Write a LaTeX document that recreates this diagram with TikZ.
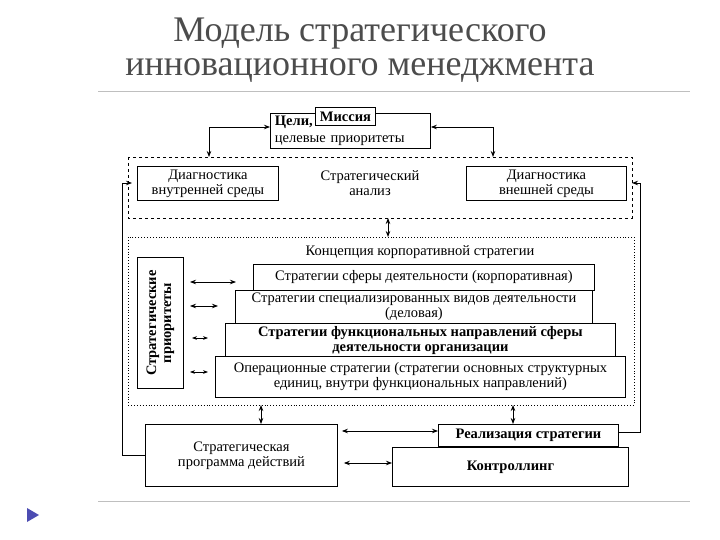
\documentclass[tikz,border=0pt]{standalone}
\usepackage{fontspec}
\setmainfont{Liberation Serif}
\usetikzlibrary{arrows.meta}
\begin{document}
\begin{tikzpicture}[x=1pt,y=-1pt,
  fs/.style={font=\fontsize{14.5}{15}\selectfont},
  fsb/.style={font=\fontsize{14.5}{15}\selectfont\bfseries},
  bx/.style={draw,line width=0.9pt,fill=white,inner sep=0pt,fs,align=center},
  arr/.style={{Stealth[length=6pt]}-{Stealth[length=6pt]},line width=0.8pt},
  lbl/.style={fs,align=center}]
\useasboundingbox (0,0) rectangle (720,540);
\node[font=\fontsize{36}{40}\selectfont,text=black!70] (t1) at (360,34) {Модель стратегического};
\node[font=\fontsize{36}{40}\selectfont,text=black!70] (t2) at (360,71) {инновационного менеджмента};
\draw[black!25,line width=0.6pt] (98,91) -- (690,91);
\draw[black!25,line width=0.6pt] (98,501) -- (690,501);
\fill[gray!60!blue] (27,508) -- (39,515) -- (27,522) -- cycle;
% top
\draw[dashed,line width=0.8pt] (128,157) rectangle (632,218);
\node[bx,minimum width=160,minimum height=35,text width=155,align=left,anchor=north west] (goal) at (270,113) {\vspace*{2pt}\hspace*{2pt}\textbf{Цели,}\\[0pt]\hspace*{2pt}целевые приоритеты};
\node[bx,fsb,minimum width=60,minimum height=18,anchor=north west] (mis) at (315,107) {Миссия};
\coordinate (sa1) at (209,157); \coordinate (sa2) at (493,157);
\draw[arr] (goal.west |- 0,127) -| (sa1);
\draw[arr] (goal.east |- 0,127) -| (sa2);
\node[bx,minimum width=141,minimum height=34,anchor=north west] (din) at (137,166) {Диагностика\\внутренней среды};
\node[bx,minimum width=160,minimum height=34,anchor=north west] (dex) at (466,166) {Диагностика\\внешней среды};
\node[lbl] (sa) at (370,183) {Стратегический\\анализ};
% corporate
\draw[dotted,line width=0.9pt] (128,237) rectangle (634,405);
\coordinate (c1) at (388,218); \coordinate (c2) at (388,237);
\draw[arr] (c1) -- (c2);
\node[lbl] (kc) at (420,252) {Концепция корпоративной стратегии};
\node[bx,minimum width=46,minimum height=131,anchor=north west] (pr) at (137,257) {};
\node[lbl,fsb,rotate=90] (prt) at (pr.center) {Стратегические\\приоритеты};
\node[bx,minimum width=341,minimum height=26,anchor=north west] (s1) at (253,264) {Стратегии сферы деятельности (корпоративная)};
\node[bx,minimum width=357,minimum height=33,anchor=north west] (s2) at (235,290) {Стратегии специализированных видов деятельности\\(деловая)};
\node[bx,fsb,minimum width=390,minimum height=34,anchor=north west] (s3) at (225,323) {Стратегии функциональных направлений сферы\\деятельности организации};
\node[bx,minimum width=410,minimum height=41,anchor=north west] (s4) at (215,356) {Операционные стратегии (стратегии основных структурных\\единиц, внутри функциональных направлений)};
\coordinate (a1) at (190,282); \coordinate (b1) at (236,282);
\coordinate (a2) at (190,306); \coordinate (b2) at (218,306);
\coordinate (a3) at (192,338); \coordinate (b3) at (208,338);
\coordinate (a4) at (190,372); \coordinate (b4) at (208,372);
\draw[arr] (a1) -- (b1); \draw[arr] (a2) -- (b2);
\draw[{Stealth[length=5pt]}-{Stealth[length=5pt]},line width=0.8pt] (a3) -- (b3);
\draw[{Stealth[length=5pt]}-{Stealth[length=5pt]},line width=0.8pt] (a4) -- (b4);
% bottom
\node[bx,minimum width=192,minimum height=62,anchor=north west] (prog) at (145,424) {Стратегическая\\программа действий};
\node[bx,fsb,minimum width=180,minimum height=22,anchor=north west] (real) at (438,424) {Реализация стратегии};
\node[bx,fsb,minimum width=236,minimum height=39,anchor=north west] (ctrl) at (392,447) {Контроллинг};
\coordinate (d1) at (261,405); \coordinate (d2) at (513,405);
\draw[arr] (d1) -- (prog.north -| d1);
\draw[arr] (d2) -- (real.north -| d2);
\draw[arr] (prog.east |- 0,431) ++(4,0) -- (real.west |- 0,431);
\draw[arr] (prog.east |- 0,463) ++(6,0) -- (ctrl.west |- 0,463);
% feedback
\coordinate (lf) at (132,183); \coordinate (rf) at (632,183);
\draw[-{Stealth[length=6pt]},line width=0.8pt] (prog.west |- 0,455) -- (122,455) -- (122,183) -- (lf);
\draw[-{Stealth[length=6pt]},line width=0.8pt] (real.east |- 0,432) -- (640,432) -- (640,183) -- (rf);
\end{tikzpicture}
\end{document}
